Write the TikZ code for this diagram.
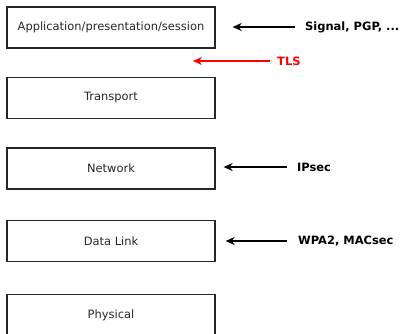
\documentclass[tikz,border=0pt]{standalone}
\usepackage{fontspec}
\setmainfont{DejaVu Sans}
\usetikzlibrary{arrows.meta}
\begin{document}
\begin{tikzpicture}[x=1bp,y=-1bp,
  layer/.style={draw=black!85, line width=1.3bp, minimum width=208bp, minimum height=41bp,
    inner sep=0pt, font=\fontsize{11.5}{13}\selectfont, text=black!85},
  proto/.style={anchor=west, inner sep=0pt, font=\bfseries\fontsize{11.5}{13}\selectfont},
  secarrow/.style={line width=1.3bp, -{Stealth[length=9bp,width=8bp]}}]
  \useasboundingbox (0,0) rectangle (401,334);
  \fill[white] (0,0) rectangle (401,334);

  % protocol stack
  \node[layer] (app) at (111,27.5) {Application/presentation/session};
  \node[layer] (trans) at (111,98) {Transport};
  \node[layer] (net) at (111,168.5) {Network};
  \node[layer] (dl) at (111,241) {Data Link};
  \node[layer] (phys) at (111,315) {Physical};

  % security protocols at each level
  \node[proto] (sig) at (305,27) {Signal, PGP, ...};
  \node[proto, text=red] (tls) at (277,61) {TLS};
  \node[proto] (ipsec) at (297,167) {IPsec};
  \node[proto] (wpa) at (298,241) {WPA2, MACsec};

  \coordinate (tlstip) at (193,61);

  \draw[secarrow] ([xshift=-10bp]sig.west) -- ([xshift=17bp]app.east |- sig.west);
  \draw[secarrow, red] ([xshift=-7bp]tls.west) -- (tlstip);
  \draw[secarrow] ([xshift=-10bp]ipsec.west) -- ([xshift=8bp]net.east |- ipsec.west);
  \draw[secarrow] ([xshift=-11bp]wpa.west) -- ([xshift=10bp]dl.east |- wpa.west);
\end{tikzpicture}
\end{document}
